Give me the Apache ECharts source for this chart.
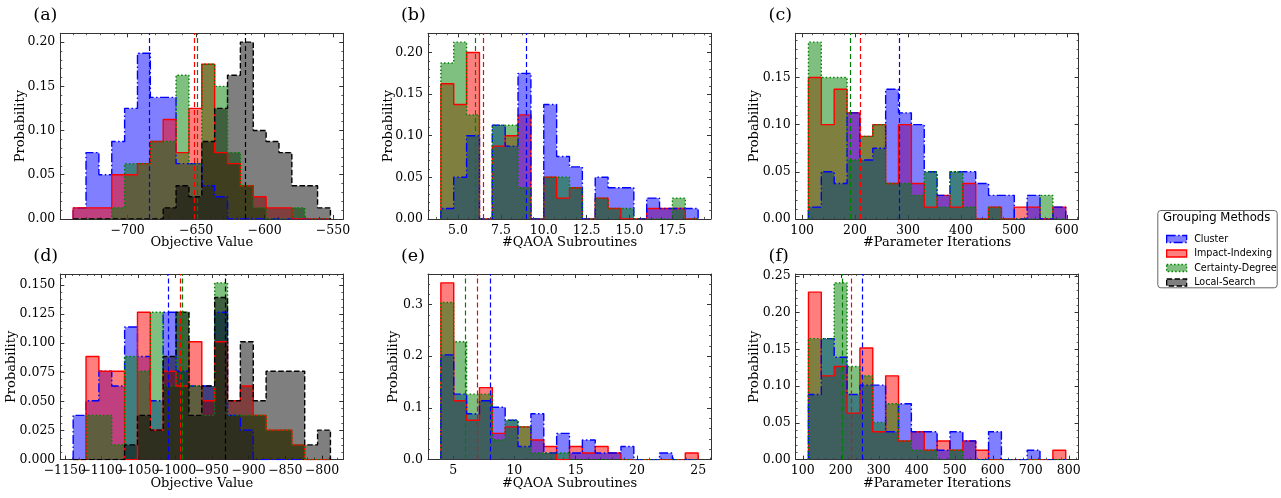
<!DOCTYPE html>
<html lang="en">
<head>
<meta charset="UTF-8">
<title>Grouping methods histograms</title>
<style>
  body, div { margin: 0; padding: 0; }
  #main { width: 1281px; height: 498px; background: #fff; }
</style>
</head>
<body>
<div id="main"></div>
<script src="https://cdn.jsdelivr.net/npm/echarts@6.0.0/dist/echarts.min.js"></script>
<script>
// six panels, 20 shared bins per panel, heights are counts / sample size
var panelTags = ['(a)', '(b)', '(c)', '(d)', '(e)', '(f)'];
var xTitles = ['Objective Value', '#QAOA Subroutines', '#Parameter Iterations',
               'Objective Value', '#QAOA Subroutines', '#Parameter Iterations'];
var methods = ['Cluster', 'Impact-Indexing', 'Certainty-Degree', 'Local-Search'];

var sampleSize = [80, 80, 80, 79, 79, 79];
// first edge / last edge of the 20 bins
var binRange = [[-739.8, -551.9], [4, 19], [112, 598], [-1138.6, -788.6], [4, 25], [115, 792]];

var clusterCounts = [
  [1, 6, 4, 7, 10, 15, 11, 11, 5, 5, 3, 2, 0, 0, 0, 0, 0, 0, 0, 0],
  [1, 4, 8, 0, 9, 7, 14, 0, 11, 6, 5, 0, 4, 3, 3, 0, 2, 1, 1, 1],
  [1, 4, 3, 9, 5, 6, 11, 9, 8, 4, 2, 4, 4, 3, 2, 2, 0, 2, 0, 1],
  [3, 4, 6, 5, 9, 7, 4, 10, 6, 5, 5, 10, 3, 2, 0, 0, 0, 0, 0, 0],
  [16, 10, 7, 9, 8, 6, 2, 7, 1, 4, 1, 3, 1, 1, 2, 0, 0, 1, 0, 0],
  [7, 13, 11, 7, 8, 8, 3, 6, 3, 3, 1, 3, 2, 0, 3, 0, 0, 1, 0, 0]
];
var impactCounts = [
  [1, 1, 1, 4, 4, 5, 7, 9, 6, 10, 14, 6, 5, 3, 2, 1, 1, 0, 0, 0],
  [13, 11, 16, 0, 7, 8, 10, 0, 4, 2, 3, 0, 2, 1, 0, 0, 1, 1, 1, 0],
  [12, 8, 11, 9, 7, 8, 3, 8, 3, 1, 2, 1, 3, 0, 1, 0, 1, 1, 0, 1],
  [0, 7, 6, 6, 0, 10, 2, 6, 5, 8, 4, 8, 4, 5, 3, 2, 2, 1, 0, 0],
  [27, 9, 6, 11, 4, 5, 5, 3, 2, 0, 2, 1, 2, 1, 0, 0, 0, 0, 0, 1],
  [18, 9, 10, 5, 12, 3, 9, 2, 3, 1, 2, 1, 2, 1, 0, 0, 0, 0, 0, 1]
];
var certaintyCounts = [
  [0, 0, 0, 1, 5, 5, 7, 7, 13, 5, 14, 12, 6, 3, 1, 0, 0, 1, 0, 0],
  [15, 17, 10, 0, 9, 9, 3, 0, 4, 4, 3, 0, 2, 1, 1, 0, 0, 0, 2, 0],
  [15, 12, 12, 5, 7, 8, 3, 3, 2, 4, 1, 4, 1, 0, 1, 0, 0, 0, 2, 0],
  [0, 3, 3, 1, 7, 6, 10, 5, 10, 5, 3, 12, 3, 3, 3, 2, 2, 1, 0, 0],
  [24, 18, 10, 10, 3, 6, 5, 1, 1, 1, 0, 0, 0, 0, 0, 0, 0, 0, 0, 0],
  [13, 13, 19, 10, 9, 4, 6, 2, 1, 1, 0, 1, 0, 0, 0, 0, 0, 0, 0, 0]
];
var localCounts = [
  [0, 0, 0, 0, 0, 0, 0, 1, 3, 2, 7, 10, 13, 16, 8, 7, 6, 3, 3, 1],
  null,
  null,
  [0, 0, 0, 0, 1, 3, 2, 7, 10, 3, 5, 11, 4, 8, 4, 6, 6, 6, 1, 2],
  null,
  null
];
// dashed vertical lines (Cluster, Impact, Certainty, Local)
var medians = [
  [-684.4, -651.3, -649.1, -614.3],
  [9, 6.5, 6, null],
  [283.7, 209.6, 191.3, null],
  [-1008.8, -993.4, -989.7, -931.2],
  [8, 7, 6, null],
  [257.1, 228.2, 202.6, null]
];
// order in which the histograms are stacked (index into methods)
var drawOrder = [[0, 1, 2, 3], [1, 0, 2], [1, 0, 2], [0, 1, 2, 3], [1, 0, 2], [1, 0, 2]];

var xTicks = [
  [-700, -650, -600, -550],
  [5, 7.5, 10, 12.5, 15, 17.5],
  [100, 200, 300, 400, 500, 600],
  [-1150, -1100, -1050, -1000, -950, -900, -850, -800],
  [5, 10, 15, 20, 25],
  [100, 200, 300, 400, 500, 600, 700, 800]
];
var yTicks = [
  [0, 0.05, 0.1, 0.15, 0.2],
  [0, 0.05, 0.1, 0.15, 0.2],
  [0, 0.05, 0.1, 0.15],
  [0, 0.025, 0.05, 0.075, 0.1, 0.125, 0.15],
  [0, 0.1, 0.2, 0.3],
  [0, 0.05, 0.1, 0.15, 0.2, 0.25]
];
var xDecimals = [0, 1, 0, 0, 0, 0];
var yDecimals = [2, 2, 2, 3, 1, 2];
var xMinorStep = [10, 0.625, 20, 10, 1, 20];
var yMinorStep = [0.01, 0.01, 0.01, 0.00625, 0.02, 0.01];

// styling
var lineColors = ['#0000ff', '#ff0000', '#008000', '#000000'];
var lineDash = [[9, 2.5, 1.5, 2.5], 'solid', [1.5, 2.2], [5.5, 2.4]];
var gridLefts = [60.3, 428, 795.6, 60.3, 428, 795.6];
var gridTops = [33.3, 33.3, 33.3, 274, 274, 274];
var gridW = 283, gridH = 185.6;
var yNameGap = [33.5, 33, 34, 42, 27.5, 34];
var serif = 'DejaVu Serif';
var frameColor = '#333';

function minorTicks(lo, hi, step) {
  var out = [];
  for (var k = Math.ceil(lo / step - 1e-9); k * step <= hi + 1e-9; k++) {
    out.push(+(k * step).toFixed(6));
  }
  return out;
}

function fmt(dec) {
  return function (v) {
    var s = Math.abs(v).toFixed(dec);
    return v < -1e-12 ? '\u2212' + s : s;
  };
}

function histPoints(range, counts, n) {
  var w = (range[1] - range[0]) / counts.length;
  var pts = [[range[0], 0]];
  counts.forEach(function (c, i) {
    pts.push([range[0] + i * w, c / n]);
  });
  pts.push([range[1], counts[counts.length - 1] / n]);
  pts.push([range[1], 0]);
  return pts;
}

function tickLabel(values, dec) {
  if (!values || !values.length) return { show: false };
  return {
    show: true, customValues: values, formatter: fmt(dec), margin: 5,
    showMinLabel: true, showMaxLabel: true, hideOverlap: false,
    fontFamily: serif, fontSize: 12.5, color: '#000'
  };
}

// main axis draws frame + major ticks, second axis draws minor ticks;
// labels alternate between the two so crowded labels are never dropped
function axisPair(g, side, lo, hi, majors, minors, labels, dec, nameOpt) {
  var evenLabels = labels ? labels.filter(function (v, i) { return i % 2 === 0; }) : null;
  var oddLabels = labels ? labels.filter(function (v, i) { return i % 2 === 1; }) : null;
  var main = {
    type: 'value', gridIndex: g, position: side, min: lo, max: hi,
    axisLine: { show: true, onZero: false, lineStyle: { color: frameColor, width: 1 } },
    axisTick: { show: true, inside: true, length: 4, customValues: majors,
                lineStyle: { color: frameColor, width: 1 } },
    axisLabel: tickLabel(evenLabels, dec),
    splitLine: { show: false },
    minorTick: { show: false }
  };
  if (nameOpt) Object.assign(main, nameOpt);
  var minor = {
    type: 'value', gridIndex: g, position: side, min: lo, max: hi,
    axisLine: { show: false, onZero: false },
    axisTick: { show: true, inside: true, length: 2, customValues: minors,
                lineStyle: { color: frameColor, width: 0.8 } },
    axisLabel: tickLabel(oddLabels, dec),
    splitLine: { show: false }
  };
  return [main, minor];
}

var myChart = echarts.init(document.getElementById('main'), null, { renderer: 'canvas' });

var options = {
  animation: false,
  backgroundColor: '#fff',
  grid: [],
  xAxis: [],
  yAxis: [],
  series: [],
  graphic: [],
  legend: {
    orient: 'vertical',
    left: 1161,
    top: 228,
    itemWidth: 20,
    itemHeight: 7,
    itemGap: 2.5,
    selectedMode: false,
    textStyle: { fontFamily: 'DejaVu Sans', fontSize: 9.6, color: '#000', lineHeight: 12,
                 padding: [0, 0, 0, 2.5] },
    data: methods.map(function (m, i) {
      return {
        name: m,
        icon: 'rect',
        itemStyle: {
          color: echarts.color.modifyAlpha(lineColors[i], 0.5),
          borderColor: lineColors[i],
          borderWidth: 1.3,
          borderType: lineDash[i]
        }
      };
    })
  }
};

panelTags.forEach(function (tag, p) {
  var lo = binRange[p][0], hi = binRange[p][1];
  var pad = (hi - lo) * 0.05;
  var xMin = lo - pad, xMax = hi + pad;
  var sets = [clusterCounts[p], impactCounts[p], certaintyCounts[p], localCounts[p]];
  var yMax = 0;
  sets.forEach(function (c) {
    if (c) yMax = Math.max(yMax, Math.max.apply(null, c) / sampleSize[p]);
  });
  yMax *= 1.05;

  options.grid.push({ left: gridLefts[p], top: gridTops[p], width: gridW, height: gridH });

  var xMinors = minorTicks(xMin, xMax, xMinorStep[p]);
  var yMinors = minorTicks(0, yMax, yMinorStep[p]);

  var xb = axisPair(p, 'bottom', xMin, xMax, xTicks[p], xMinors, xTicks[p], xDecimals[p], {
    name: xTitles[p], nameLocation: 'middle', nameGap: 17.5, nameMoveOverlap: false,
    nameTextStyle: { fontFamily: serif, fontSize: 13, color: '#000' }
  });
  var xt = axisPair(p, 'top', xMin, xMax, xTicks[p], xMinors, null, 0, null);
  var yl = axisPair(p, 'left', 0, yMax, yTicks[p], yMinors, yTicks[p], yDecimals[p], {
    name: 'Probability', nameLocation: 'middle', nameGap: yNameGap[p], nameRotate: 90,
    nameMoveOverlap: false,
    nameTextStyle: { fontFamily: serif, fontSize: 13, color: '#000' }
  });
  var yr = axisPair(p, 'right', 0, yMax, yTicks[p], yMinors, null, 0, null);
  var xIdx = options.xAxis.length, yIdx = options.yAxis.length;
  options.xAxis.push(xb[0], xb[1], xt[0], xt[1]);
  options.yAxis.push(yl[0], yl[1], yr[0], yr[1]);

  drawOrder[p].forEach(function (m) {
    if (!sets[m]) return;
    options.series.push({
      type: 'line',
      name: methods[m],
      xAxisIndex: xIdx,
      yAxisIndex: yIdx,
      data: histPoints(binRange[p], sets[m], sampleSize[p]),
      step: 'end',
      symbol: 'none',
      showSymbol: false,
      silent: true,
      z: 2,
      itemStyle: { color: lineColors[m] },
      lineStyle: { color: lineColors[m], width: 1.4, type: lineDash[m] },
      areaStyle: { color: lineColors[m], opacity: 0.5 },
      emphasis: { disabled: true }
    });
  });

  var marks = [];
  medians[p].forEach(function (v, m) {
    if (v === null) return;
    marks.push({ xAxis: v, lineStyle: { color: lineColors[m], width: 1.2, type: [5, 3] } });
  });
  options.series.push({
    type: 'line',
    xAxisIndex: xIdx,
    yAxisIndex: yIdx,
    data: [],
    silent: true,
    z: 5,
    markLine: {
      silent: true,
      symbol: ['none', 'none'],
      label: { show: false },
      animation: false,
      emphasis: { disabled: true },
      data: marks
    }
  });

  options.graphic.push({
    type: 'text',
    left: gridLefts[p] - 27,
    top: gridTops[p] - 26.5,
    style: { text: tag, fontFamily: serif, fontSize: 17.5, fill: '#000' }
  });
});

// legend frame and title
options.graphic.push({
  type: 'rect',
  left: 1157.3,
  top: 210,
  z: 0,
  shape: { width: 119.4, height: 77.3, r: 3 },
  style: { fill: '#fff', stroke: '#666', lineWidth: 1 }
});
options.graphic.push({
  type: 'text',
  left: 1163,
  top: 211.5,
  z: 1,
  style: { text: 'Grouping Methods', fontFamily: 'DejaVu Sans', fontSize: 11.7, fill: '#000' }
});

myChart.setOption(options);
</script>
</body>
</html>
